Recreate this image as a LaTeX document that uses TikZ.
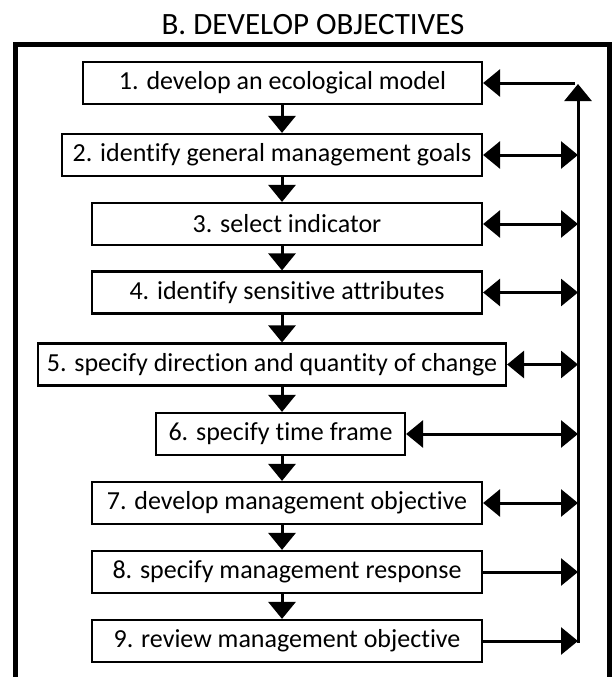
\documentclass[tikz,border=0pt]{standalone}
\usepackage{fontspec}
\setmainfont[Ligatures=NoCommon]{Carlito}
\usetikzlibrary{arrows.meta}

\begin{document}
\begin{tikzpicture}[x=1pt, y=-1pt,
        main/.style = {draw, line width=2.2pt, minimum height=42pt, inner sep=0pt, font=\fontsize{26}{30}\selectfont},
        arr/.style = {line width=3pt, -{Triangle[length=17pt,width=27pt]}},
        both/.style = {line width=3pt, {Triangle[length=17pt,width=27pt]}-{Triangle[length=17pt,width=27pt]}}]
        \useasboundingbox (0,0) rectangle (613,677);
        \node[anchor=base, font=\fontsize{31}{36}\selectfont] (title) at (313,35) {B. DEVELOP OBJECTIVES};
        \draw[line width=5pt] (15,677) -- (15,44.5) -- (609,44.5) -- (609,677);
        \coordinate (mid) at (282,0);
        \coordinate (rail) at (578,0);
        \node[main, minimum width=399pt] (1) at (282.5,83) {1. develop an ecological model};
        \node[main, minimum width=420pt] (2) at (272,155) {2. identify general management goals};
        \node[main, minimum width=390pt] (3) at (287,224) {3. select indicator};
        \node[main, minimum width=390pt] (4) at (287,292.5) {4. identify sensitive attributes};
        \node[main, minimum width=468pt] (5) at (272,364.5) {5. specify direction and quantity of change};
        \node[main, minimum width=249pt] (6) at (280.5,434) {6. specify time frame};
        \node[main, minimum width=390pt] (7) at (287,503) {7. develop management objective};
        \node[main, minimum width=390pt] (8) at (287,572) {8. specify management response};
        \node[main, minimum width=390pt] (9) at (287,641) {9. review management objective};
        \foreach \a/\b in {1/2,2/3,3/4,4/5,5/6,6/7,7/8,8/9}
            \draw[arr] (\a.south -| mid) -- (\b.north -| mid);
        \foreach \n in {2,...,7}
            \draw[both] (\n.east) -- (\n.east -| rail);
        \foreach \n in {8,9}
            \draw[arr] (\n.east) -- (\n.east -| rail);
        \draw[arr] ([yshift=-1.5pt]9.east -| rail) -- ([yshift=-1pt]1.east -| rail);
        \draw[arr] ([xshift=-3pt]1.east -| rail) -- (1.east);
    \end{tikzpicture}
\end{document}
